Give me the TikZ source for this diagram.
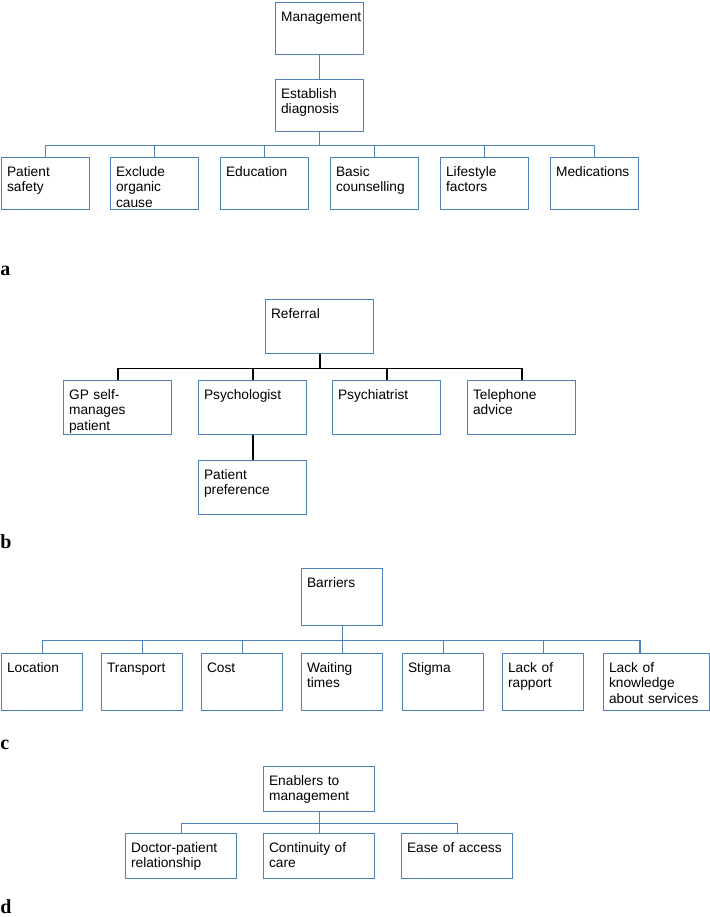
\documentclass[tikz,border=0pt]{standalone}
\usepackage{fontspec}
\setmainfont{Liberation Sans}
\newfontfamily\panelfont{Liberation Serif}
\usepackage{xcolor}
\usepackage{tikz}
\usetikzlibrary{positioning}

\definecolor{boxblue}{RGB}{79,129,189}

\tikzset{
  box/.style={draw=boxblue, line width=1.1pt, anchor=north west, align=left,
    inner xsep=4pt, inner ysep=0pt, text height=14.25pt,
    font=\fontsize{10.3}{11.4}\selectfont},
  boxa/.style={box, text width=58pt, text depth=24.75pt},
  boxb/.style={box, text width=73pt, text depth=26.25pt},
  boxc/.style={box, text width=52.75pt, text depth=28.5pt},
  boxd/.style={box, text width=75.25pt, text depth=19.5pt},
  link/.style={draw=boxblue, line width=0.8pt},
  blink/.style={draw=black, line width=1.2pt},
  panel/.style={anchor=base west, inner sep=0pt,
    font=\panelfont\bfseries\fontsize{15}{16}\selectfont},
}

\begin{document}
\begin{tikzpicture}[x=0.75pt,y=-0.75pt]
  \useasboundingbox (0,0) rectangle (710,917);

  % (a) management
  \node[boxa] (mgmt) at (275,2) {Management};
  \node[boxa] (diag) at (275,79) {Establish\\diagnosis};
  \draw[link] (mgmt.south) -- (diag.north);
  \foreach \n/\x/\txt in {safe/1/{Patient\\safety}, organic/110/{Exclude\\organic\\cause},
      edu/220/Education, couns/330/{Basic\\counselling}, life/440/{Lifestyle\\factors},
      meds/550/Medications} {
    \node[boxa] (\n) at (\x,157) {\txt};
    \draw[link] (diag.south) -- ++(0,13) -| (\n.north);
  }
  \node[panel] (pa) at (0,275) {a};

  % (b) referral
  \node[boxb] (ref) at (265,299) {Referral};
  \foreach \n/\x/\txt in {gp/63/{GP self-\\manages\\patient}, psy/198/Psychologist,
      psych/332/Psychiatrist, tel/467/{Telephone\\advice}} {
    \node[boxb] (\n) at (\x,380) {\txt};
    \draw[blink] (ref.south) -- ++(0,14) -| (\n.north);
  }
  \node[boxb] (pref) at (198,460) {Patient\\preference};
  \draw[blink] (psy.south) -- (pref.north);
  \node[panel] (pb) at (0,548) {b};

  % (c) barriers
  \node[boxc] (bar) at (301,568) {Barriers};
  \foreach \n/\x/\txt in {loc/1/Location, trans/101/Transport, cost/201/Cost,
      wait/301/{Waiting\\times}, stig/402/Stigma, rapp/502/{Lack of\\rapport}} {
    \node[boxc] (\n) at (\x,653) {\txt};
    \draw[link] (bar.south) -- ++(0,14) -| (\n.north);
  }
  \node[boxc, text width=71.5pt] (know) at (603,653) {Lack of\\knowledge\\about services};
  \draw[link] (bar.south) -- ++(0,14) -| ([xshift=27.75pt]know.north west);
  \node[panel] (pc) at (0,749) {c};

  % (d) enablers
  \node[boxd] (enab) at (263,766) {Enablers to\\management};
  \foreach \n/\x/\txt in {dpr/125/{Doctor-patient\\relationship},
      cont/263/{Continuity of\\care}, ease/401/Ease of access} {
    \node[boxd] (\n) at (\x,833) {\txt};
    \draw[link] (enab.south) -- ++(0,11) -| (\n.north);
  }
  \node[panel] (pd) at (0,913) {d};
\end{tikzpicture}
\end{document}
